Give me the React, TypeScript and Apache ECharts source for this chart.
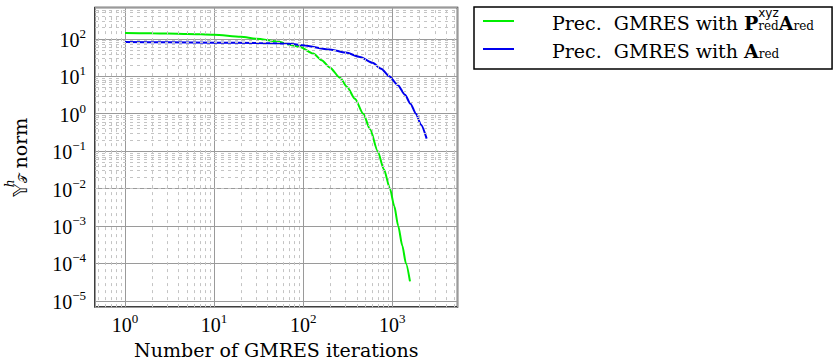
import React, { useEffect, useRef } from "react";
import * as echarts from "echarts";

// ---- data ----
const greenName = "Prec. GMRES with P_red^xyz A_red";
const blueName = "Prec. GMRES with A_red";

const greenIter = [1, 2, 3, 5, 10, 20, 30, 50, 77, 92, 130, 161, 200, 259, 310, 381, 473, 562, 686, 805, 942, 1053, 1167, 1295, 1425, 1581];
const greenNorm = [143, 141, 139, 136, 129, 114, 101, 86, 67, 60.5, 40.5, 26.9, 17, 9.1, 5.3, 2.5, 1.0, 0.39, 0.1, 0.033, 0.01, 0.0034, 0.001, 0.0003, 0.0001, 0.000033];

const blueIter = [1, 3, 10, 30, 70, 92, 200, 300, 434, 600, 750, 925, 1150, 1389, 1600, 1845, 2100, 2432];
const blueNorm = [82, 81, 79, 78, 74, 69, 52, 43, 33, 23, 16, 10, 5.9, 3.2, 1.85, 1.0, 0.51, 0.216];

// axis ranges and tick structure
const xMin = 0.46;
const xMax = 5400;
const yMin = 6.8e-6;
const yMax = 690;
const xDecades = [0.1, 1, 10, 100, 1000];
const yDecades = [1e-6, 1e-5, 1e-4, 1e-3, 1e-2, 1e-1, 1, 10, 100];
const minorSteps = [2, 3, 4, 5, 6, 7, 8, 9];

const NUM = "'Liberation Serif', serif";
const SERIF = "'DejaVu Serif', 'Liberation Serif', serif";
const SANS = "'DejaVu Sans', 'Liberation Sans', sans-serif";

function minorValues(decades: number[], lo: number, hi: number) {
  const out: number[] = [];
  decades.forEach((d) => {
    minorSteps.forEach((m) => {
      const v = d * m;
      if (v > lo && v < hi) out.push(v);
    });
  });
  return out;
}

function powLabel(v: number) {
  const l = Math.log10(v);
  const r = Math.round(l);
  if (Math.abs(l - r) > 1e-6) return "";
  const e = r < 0 ? "\u2212" + String(-r) : String(r);
  return "{b|10}{s|" + e + "}";
}

const tickRich = {
  b: { fontFamily: NUM, fontSize: 20, lineHeight: 22, color: "#000", verticalAlign: "bottom" },
  s: { fontFamily: NUM, fontSize: 13, lineHeight: 14, padding: [0, 0, 10, 0], color: "#000", verticalAlign: "bottom" },
};

export default function App() {
  const ref = useRef<HTMLDivElement>(null);
  useEffect(() => {
    if (!ref.current) return;
    const chart = echarts.init(ref.current, null, { renderer: "svg" });
    const xMinor = minorValues(xDecades, xMin, xMax);
    const yMinor = minorValues(yDecades, yMin, yMax);
    const minorStyle = { color: "#c4c4c4", width: 1, type: [3, 4] as any };

    chart.setOption({
      animation: false,
      backgroundColor: "#fff",
      grid: {
        left: 95,
        top: 7.5,
        right: 378.5,
        bottom: 55,
        show: true,
        borderColor: "#000",
        borderWidth: 1.5,
        backgroundColor: "transparent",
        containLabel: false,
      },
      legend: {
        orient: "vertical",
        left: 474,
        top: 7,
        padding: [0, 4, 9, 8],
        itemWidth: 31,
        itemHeight: 14,
        itemGap: 9,
        borderColor: "#000",
        borderWidth: 1.5,
        backgroundColor: "#fff",
        itemStyle: { opacity: 0 },
        data: [greenName, blueName],
        formatter: (name: string) =>
          name === greenName
            ? "{sp| }{t|Prec.  GMRES with }{bb|P}{sup|xyz}{sub|red}{bb|A}{sub|red}{end| }"
            : "{sp| }{t|Prec.  GMRES with }{bb|A}{sub|red}",
        textStyle: {
          color: "#000",
          fontFamily: SERIF,
          fontSize: 19,
          rich: {
            sp: { width: 33, fontSize: 19, lineHeight: 22, verticalAlign: "bottom" },
            end: { width: 14, fontSize: 19, lineHeight: 22, verticalAlign: "bottom" },
            t: { fontFamily: SERIF, fontSize: 19, lineHeight: 22, color: "#000", verticalAlign: "bottom" },
            bb: { fontFamily: SERIF, fontSize: 19, lineHeight: 22, fontWeight: "bold", color: "#000", verticalAlign: "bottom" },
            sup: { fontFamily: SANS, fontSize: 12, lineHeight: 14, width: 0, padding: [0, 0, 13, 0], color: "#000", verticalAlign: "bottom" },
            sub: { fontFamily: SERIF, fontSize: 12, lineHeight: 4, color: "#000", verticalAlign: "bottom" },
          },
        },
      },
      xAxis: {
        type: "log",
        logBase: 10,
        min: xMin,
        max: xMax,
        name: "Number of GMRES iterations",
        nameLocation: "middle",
        nameGap: 28,
        nameTextStyle: { fontFamily: SERIF, fontSize: 19, color: "#000" },
        axisLine: { show: false },
        axisTick: { show: false },
        axisLabel: {
          interval: 0,
          margin: 6,
          formatter: (v: number) => powLabel(v),
          rich: tickRich,
        },
        splitLine: { show: true, lineStyle: { color: "#9a9a9a", width: 1 } },
      },
      yAxis: {
        type: "log",
        logBase: 10,
        min: yMin,
        max: yMax,
        name: "{y|\uD835\uDD50}{h|h}{tt|\uD835\uDCAF}{n| norm}",
        nameLocation: "middle",
        nameRotate: 90,
        nameGap: 66,
        nameTextStyle: {
          fontFamily: SERIF,
          fontSize: 19,
          color: "#000",
          rich: {
            y: { fontFamily: SANS, fontSize: 19, lineHeight: 22, color: "#000", verticalAlign: "bottom" },
            h: { fontFamily: SERIF, fontStyle: "italic", fontSize: 12, lineHeight: 14, width: 0, padding: [0, 0, 13, 0], color: "#000", verticalAlign: "bottom" },
            tt: { fontFamily: SANS, fontSize: 12, lineHeight: 4, color: "#000", verticalAlign: "bottom" },
            n: { fontFamily: SERIF, fontSize: 19, lineHeight: 22, color: "#000", verticalAlign: "bottom" },
          },
        },
        axisLine: { show: false },
        axisTick: { show: false },
        axisLabel: {
          interval: 0,
          margin: 9,
          formatter: (v: number) => powLabel(v),
          rich: tickRich,
        },
        splitLine: { show: true, lineStyle: { color: "#9a9a9a", width: 1 } },
      },
      series: [
        {
          name: "minor-grid",
          type: "line",
          data: [],
          z: 1,
          silent: true,
          markLine: {
            silent: true,
            symbol: "none",
            label: { show: false },
            lineStyle: minorStyle,
            data: [
              ...xMinor.map((v) => ({ xAxis: v })),
              ...yMinor.map((v) => ({ yAxis: v })),
            ],
          },
        },
        {
          name: greenName,
          type: "line",
          z: 3,
          data: greenIter.map((x, i) => [x, greenNorm[i]]),
          showSymbol: false,
          symbol: "none",
          smooth: 0.25,
          smoothMonotone: "x",
          color: "#00ee00",
          lineStyle: { color: "#00ee00", width: 2 },
        },
        {
          name: blueName,
          type: "line",
          z: 3,
          data: blueIter.map((x, i) => [x, blueNorm[i]]),
          showSymbol: false,
          symbol: "none",
          smooth: 0.25,
          smoothMonotone: "x",
          color: "#0000ee",
          lineStyle: { color: "#0000ee", width: 2 },
        },
      ],
    });
    return () => chart.dispose();
  }, []);
  return (
    <div
      ref={ref}
      style={{ position: "fixed", left: 0, top: 0, width: 836, height: 364, background: "#fff" }}
    />
  );
}
